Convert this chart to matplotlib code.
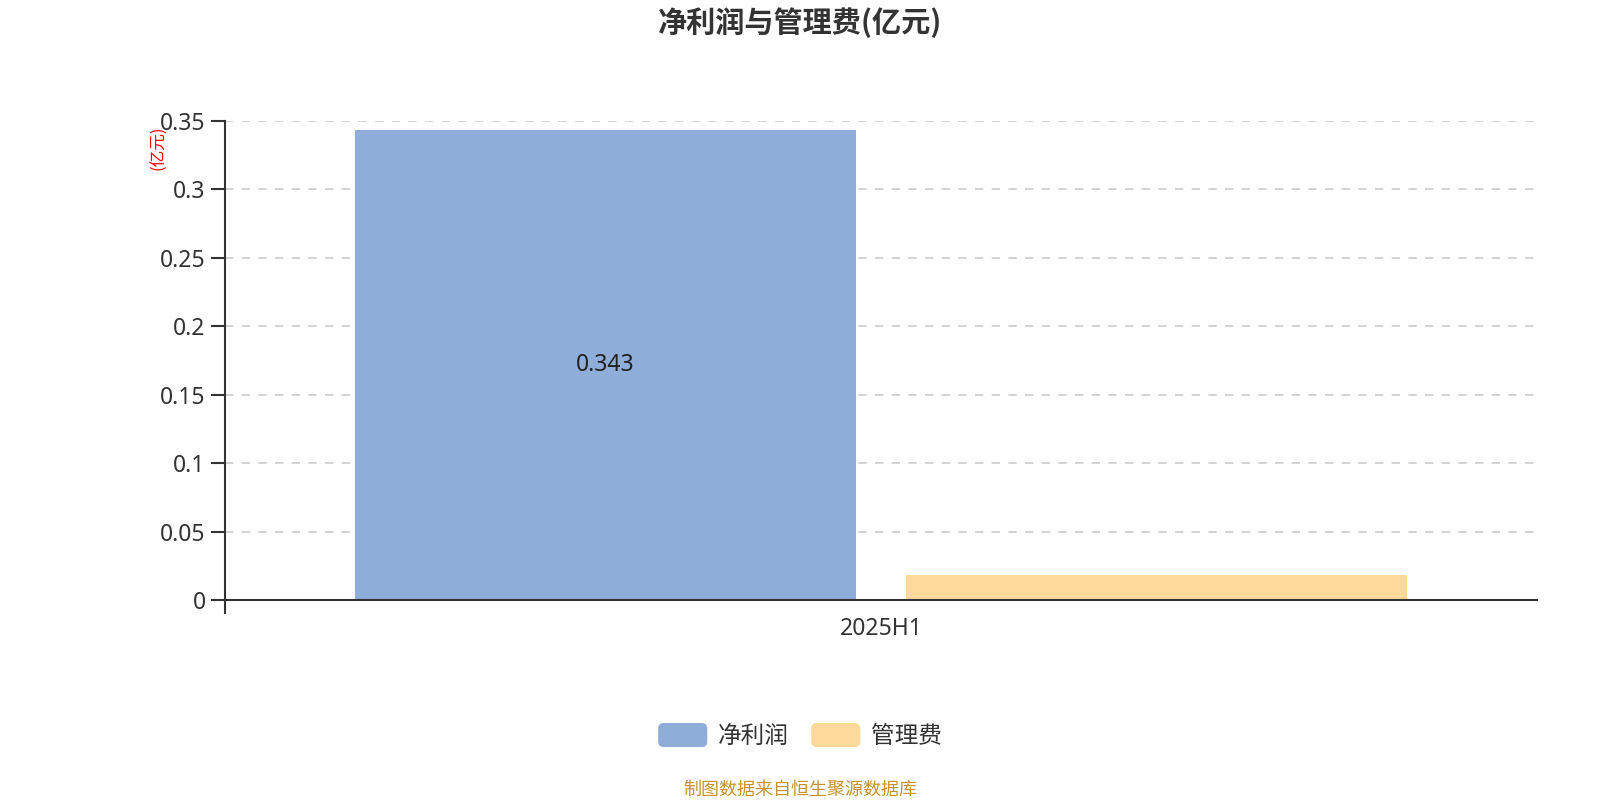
import numpy as np
import matplotlib
matplotlib.use("Agg")
import matplotlib.pyplot as plt
from matplotlib.patches import FancyBboxPatch
from matplotlib.legend_handler import HandlerPatch

plt.rcParams['font.family'] = ['Noto Sans', 'Noto Sans CJK SC', 'DejaVu Sans']

# Data
periods = ['2025H1']
series_names = ['净利润', '管理费']
net_profit = [0.343]
admin_fee = [0.0185]
series_colors = ['#8EADD9', '#FFD999']
y_ticks = [0, 0.05, 0.1, 0.15, 0.2, 0.25, 0.3, 0.35]
y_tick_labels = ['0', '0.05', '0.1', '0.15', '0.2', '0.25', '0.3', '0.35']

title = '净利润与管理费(亿元)'
unit_label = '(亿元)'
source_note = '制图数据来自恒生聚源数据库'


class RoundedHandler(HandlerPatch):
    # legend keys drawn as rounded boxes
    def create_artists(self, legend, orig_handle, xdescent, ydescent,
                       width, height, fontsize, trans):
        p = FancyBboxPatch((-xdescent, -ydescent), width, height,
                           boxstyle='round,pad=0,rounding_size=4',
                           facecolor=orig_handle.get_facecolor(),
                           edgecolor='none', transform=trans)
        return [p]


fig = plt.figure(figsize=(16, 8), dpi=100)
ax = fig.add_axes([0.1406, 0.25, 0.82, 0.599])

x = np.arange(len(periods))
width = 0.382
offset = 0.21
b1 = ax.bar(x - offset, net_profit, width, color=series_colors[0], label=series_names[0], zorder=3)
b2 = ax.bar(x + offset, admin_fee, width, color=series_colors[1], label=series_names[1], zorder=3)

# value label inside the net profit bar
for rect, v in zip(b1, net_profit):
    ax.text(rect.get_x() + rect.get_width() / 2, v / 2, '%.3f' % v,
            ha='center', va='center', fontsize=16.5, color='#222222', zorder=4)

ax.set_xlim(-0.5, 0.5)
ax.set_ylim(0, 0.35)
ax.set_yticks(y_ticks)
ax.set_yticklabels(y_tick_labels)
ax.set_xticks(x)
ax.set_xticklabels(periods)
ax.set_xticks([-0.5], minor=True)

ax.tick_params(axis='y', length=10, width=1.5, color='#333333', labelsize=16.5,
               labelcolor='#333333', pad=4)
ax.tick_params(axis='x', which='major', length=0, labelsize=16.5,
               labelcolor='#333333', pad=12)
ax.tick_params(axis='x', which='minor', length=10, width=1.5, color='#333333')

ax.grid(axis='y', linestyle=(0, (5, 5)), color='#cccccc', linewidth=1.2, zorder=0)
ax.set_axisbelow(True)

for s in ['top', 'right']:
    ax.spines[s].set_visible(False)
for s in ['left', 'bottom']:
    ax.spines[s].set_color('#333333')
    ax.spines[s].set_linewidth(1.5)
ax.spines['left'].set_zorder(5)
ax.spines['bottom'].set_zorder(5)

fig.text(0.099, 0.815, unit_label, rotation=90, color='red', fontsize=12,
         ha='center', va='center', family=['Noto Sans CJK SC', 'DejaVu Sans'])

fig.suptitle(title, x=0.5, y=0.972, va='center', fontsize=21, fontweight='bold',
             color='#333333', family=['Noto Sans CJK SC', 'DejaVu Sans'])

fig.legend(handles=[b1.patches[0], b2.patches[0]], labels=series_names,
           loc='center', bbox_to_anchor=(0.5, 0.08), ncol=2, frameon=False,
           fontsize=17, handlelength=2.08, handleheight=1.19, handletextpad=0.45,
           columnspacing=0.95, labelcolor='#333333',
           handler_map={matplotlib.patches.Rectangle: RoundedHandler()})

fig.text(0.5, 0.013, source_note, ha='center', va='center', fontsize=13, color='#C8922A')

fig.savefig('out.png', dpi=100)
